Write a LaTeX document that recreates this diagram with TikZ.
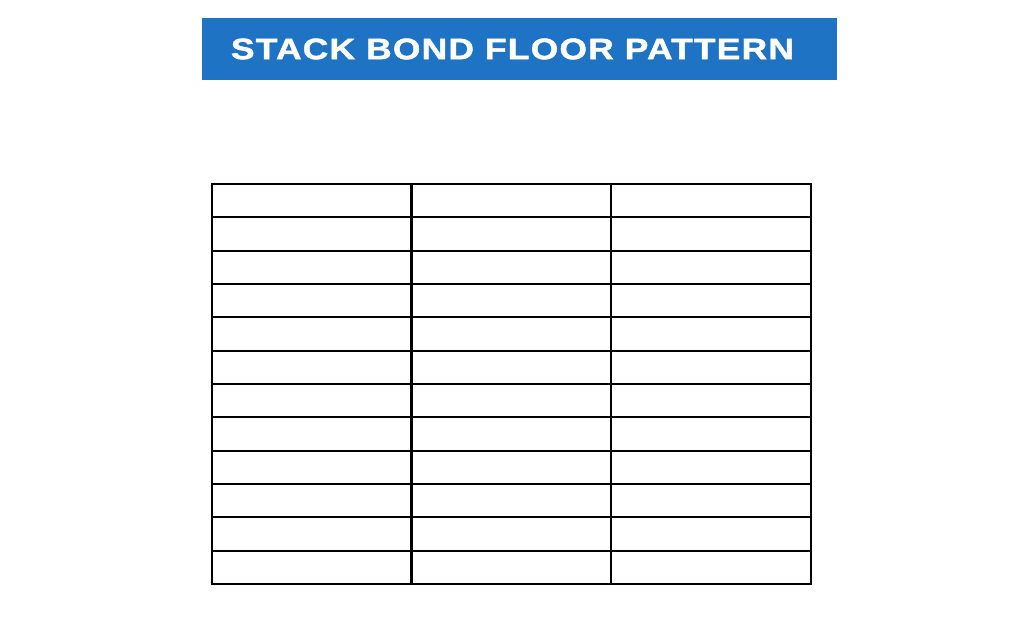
\documentclass[tikz,border=0pt]{standalone}
\usepackage{fontspec}
\newfontfamily\titlefont{Liberation Sans Bold}[FakeStretch=1.2,LetterSpace=4,FakeBold=1.5]
\definecolor{barblue}{RGB}{30,115,196}
\begin{document}
\begin{tikzpicture}[x=0.025cm,y=-0.025cm]

      \useasboundingbox (0,0) rectangle (1024,618);

      \node (title) [fill=barblue, text=white, minimum width=635*0.025cm,
        minimum height=62*0.025cm, inner sep=0pt,
        font=\titlefont\fontsize{21}{21}\selectfont] at (519.5,49) {STACK BOND FLOOR PATTERN\hspace*{10pt}};

      \begin{scope}[every node/.style={draw=black, line width=1.4pt, inner sep=0pt,
          minimum width=200*0.025cm, minimum height=33.33*0.025cm}]
        \foreach \r in {1,...,12} {
          \foreach \c in {1,2,3} {
            \node (tile-\r-\c) at (112+200*\c-0.33*\c, 167.33+33.33*\r) {};
          }
        }
      \end{scope}

    \end{tikzpicture}
\end{document}
